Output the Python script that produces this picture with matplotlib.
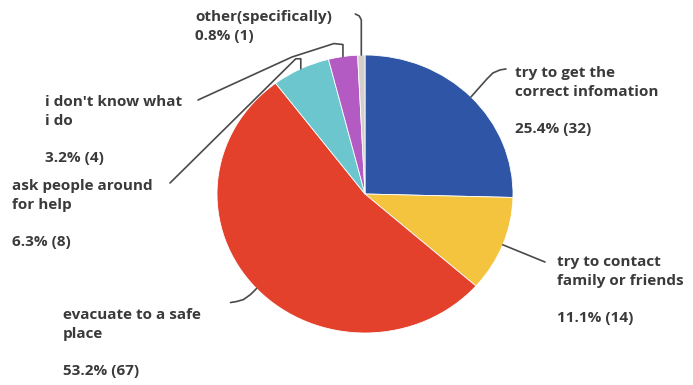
import numpy as np
import matplotlib
matplotlib.use("Agg")
import matplotlib.pyplot as plt

labels = ["try to get the\ncorrect infomation", "try to contact\nfamily or friends",
          "evacuate to a safe\nplace", "ask people around\nfor help",
          "i don't know what\ni do", "other(specifically)"]
counts = [32, 14, 67, 8, 4, 1]
colors = ["#2F55A6", "#F4C43F", "#E4412D", "#6BC6CD", "#B45AC3", "#D3CFCA"]

W, H = 693, 385
cx, cy, rx, ry = 365, 194, 148, 139
sy = rx / ry  # the reference pie is slightly stretched sideways


def Y(y):
    return (H - y) * sy


fig = plt.figure(figsize=(W / 100, H / 100), dpi=100)
ax = fig.add_axes([0, 0, 1, 1])
wedges, _ = ax.pie(counts, colors=colors, startangle=90, counterclock=False,
                   center=(cx, Y(cy)), radius=rx,
                   wedgeprops=dict(linewidth=0.6, edgecolor="white"))
ax.set_xlim(0, W)
ax.set_ylim(0, H * sy)
ax.set_aspect("auto")
ax.axis("off")

total = sum(counts)


def anchor(w):
    a = np.deg2rad((w.theta1 + w.theta2) / 2)
    return cx + rx * np.cos(a), cy - ry * np.sin(a)


# leader line paths (pixel coords from top-left), starting at wedge edge
for i, w in enumerate(wedges):
    x0, y0 = anchor(w)
    if i == 0:
        pts = [(x0, y0), (x0 + 8, y0 - 9), (x0 + 16, y0 - 18), (x0 + 22, y0 - 24), (x0 + 29, y0 - 27), (x0 + 35, y0 - 28)]
    elif i == 1:
        pts = [(x0, y0), (545, 262)]
    elif i == 2:
        pts = [(x0, y0), (x0 - 6, y0 + 6), (x0 - 13, y0 + 11), (x0 - 20, y0 + 13), (x0 - 26, y0 + 14)]
    elif i == 3:
        pts = [(x0, y0), (x0, y0 - 10), (x0 - 5, y0 - 10), (170, 183)]
    elif i == 4:
        pts = [(x0, y0), (x0, y0 - 12), (x0 - 9, y0 - 13), (292, 57), (198, 100)]
    else:
        pts = [(x0, y0), (x0, 20), (x0 - 2, 16), (x0 - 6, 14)]
    xs = [p[0] for p in pts]
    ys = [Y(p[1]) for p in pts]
    ax.plot(xs, ys, color="#4a4a4a", lw=1.2, solid_capstyle="round", solid_joinstyle="round")

# label positions (left x, top y of first line)
label_pos = [(515, 66), (557, 255), (63, 308), (12, 179), (45, 95), (195, 10)]
tc = "#3a3a3a"
fp = dict(family=["Open Sans", "DejaVu Sans"], weight="bold", fontsize=11, color=tc)
for i, lab in enumerate(labels):
    x, y = label_pos[i]
    pct = "%.1f%% (%d)" % (100 * counts[i] / total, counts[i])
    sep = "\n" if i == 5 else "\n\n"
    ax.text(x, Y(y), lab + sep + pct, va="top", ha="left", linespacing=1.42, **fp)

fig.savefig("out.png", dpi=100)
